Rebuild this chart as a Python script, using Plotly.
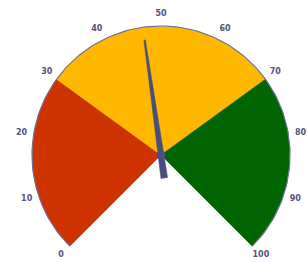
import math
import plotly.graph_objects as go

# ---- data ----
band_starts = [0, 30, 70]
band_ends = [30, 70, 100]
band_colors = ["#CC3300", "#FFB800", "#006400"]
tick_values = [0, 10, 20, 30, 40, 50, 60, 70, 80, 90, 100]
tick_labels = [str(v) for v in tick_values]
needle_value = 47

# ---- gauge geometry (270 degree sweep, clockwise from lower-left) ----
VMIN, VMAX = 0.0, 100.0
SWEEP = 270.0
START = 225.0  # screen angle of VMIN, ccw from east


def ang(v):
    return math.radians(START - (v - VMIN) / (VMAX - VMIN) * SWEEP)


def arc(v0, v1, r=1.0, step=0.5):
    n = max(2, int(abs(v1 - v0) / step) + 1)
    vs = [v0 + (v1 - v0) * i / (n - 1) for i in range(n)]
    return [r * math.cos(ang(v)) for v in vs], [r * math.sin(ang(v)) for v in vs]


W, H = 307, 262
cx, cy, R = 161, 155, 129  # pixel centre and radius of the dial

fig = go.Figure()

# coloured bands
for s, e, c in zip(band_starts, band_ends, band_colors):
    ax_, ay_ = arc(s, e)
    fig.add_trace(go.Scatter(
        x=[0] + ax_ + [0], y=[0] + ay_ + [0],
        mode="lines", fill="toself", fillcolor=c,
        line=dict(color=c, width=0.5),
        hoverinfo="skip", showlegend=False,
    ))

# outer rim line
rx, ry = arc(VMIN, VMAX)
fig.add_trace(go.Scatter(
    x=rx, y=ry, mode="lines",
    line=dict(color="#6E7196", width=1.1),
    hoverinfo="skip", showlegend=False,
))

# tick labels
LR = 1.095
fig.add_trace(go.Scatter(
    x=[LR * math.cos(ang(v)) for v in tick_values],
    y=[LR * math.sin(ang(v)) for v in tick_values],
    mode="text", text=tick_labels, textposition="middle center",
    textfont=dict(family="DejaVu Sans", size=8, color="#50547F", weight="bold"),
    cliponaxis=False, hoverinfo="skip", showlegend=False,
))

# needle
a = ang(needle_value)
ux, uy = math.cos(a), math.sin(a)
px, py = -uy, ux
tip_r, tail_r = 0.9, 0.18
hw_tip, hw_base, hw_tail = 0.006, 0.022, 0.026
pts = [
    (tip_r * ux + hw_tip * px, tip_r * uy + hw_tip * py),
    (hw_base * px, hw_base * py),
    (-tail_r * ux + hw_tail * px, -tail_r * uy + hw_tail * py),
    (-tail_r * ux - hw_tail * px, -tail_r * uy - hw_tail * py),
    (-hw_base * px, -hw_base * py),
    (tip_r * ux - hw_tip * px, tip_r * uy - hw_tip * py),
]
pts.append(pts[0])
needle_color = "#4B4E7C"
fig.add_trace(go.Scatter(
    x=[p[0] for p in pts], y=[p[1] for p in pts],
    mode="lines", fill="toself", fillcolor=needle_color,
    line=dict(color=needle_color, width=0.5),
    hoverinfo="skip", showlegend=False,
))
fig.add_trace(go.Scatter(
    x=[0], y=[0], mode="markers",
    marker=dict(size=9, color=needle_color, line=dict(width=0)),
    hoverinfo="skip", showlegend=False,
))

fig.update_layout(
    width=W, height=H,
    margin=dict(l=0, r=0, t=0, b=0),
    paper_bgcolor="white",
    plot_bgcolor="white",
    xaxis=dict(range=[-cx / R, (W - cx) / R], visible=False, fixedrange=True),
    yaxis=dict(range=[(cy - H) / R, cy / R], visible=False, fixedrange=True),
)

fig.write_html("out.html", post_script="document.body.style.margin='0';",
               config={"displayModeBar": False})
